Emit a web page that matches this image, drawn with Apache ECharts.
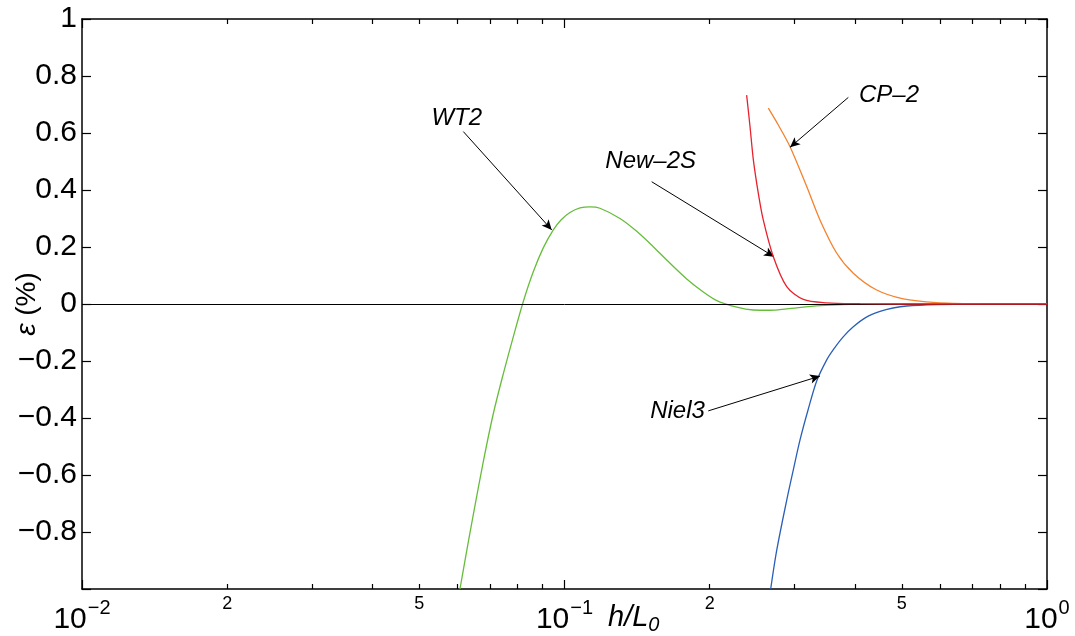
<!DOCTYPE html>
<html>
<head>
<meta charset="utf-8">
<script src="https://cdn.jsdelivr.net/npm/echarts@6/dist/echarts.min.js"></script>
<style>
html,body{margin:0;padding:0;background:#fff;}
#chart{width:1075px;height:636px;}
</style>
</head>
<body>
<div id="chart"></div>
<script>
// ---- data (h/L0 vs epsilon %) ----
const hL0_WT2 = [0.06072, 0.06248, 0.06470, 0.06786, 0.07117, 0.07464, 0.07829, 0.08210, 0.08612, 0.09031, 0.09479, 0.09834, 0.10266, 0.10768, 0.11295, 0.11845, 0.13032, 0.14114, 0.15276, 0.16545, 0.17918, 0.19399, 0.20683, 0.22752, 0.24619, 0.26666, 0.2888, 0.33844, 0.39058, 0.49585, 0.7, 1.0];
const eps_WT2 = [-1.0, -0.881, -0.740, -0.554, -0.386, -0.246, -0.116, 0.007, 0.112, 0.196, 0.260, 0.295, 0.321, 0.337, 0.341, 0.336, 0.300, 0.255, 0.201, 0.143, 0.088, 0.042, 0.012, -0.011, -0.021, -0.022, -0.017, -0.006, -0.001, 0, 0, 0];

const hL0_New2S = [0.2385, 0.2424, 0.2463, 0.2522, 0.2582, 0.2709, 0.2888, 0.3126, 0.3495, 0.41, 0.5, 0.7, 1.0];
const eps_New2S = [0.733, 0.622, 0.505, 0.388, 0.295, 0.166, 0.061, 0.016, 0.004, 0.001, 0, 0, 0];

const hL0_CP2 = [0.2645, 0.2774, 0.2934, 0.3177, 0.3384, 0.3667, 0.3968, 0.4436, 0.5038, 0.5906, 0.73, 1.0];
const eps_CP2 = [0.687, 0.628, 0.552, 0.412, 0.295, 0.178, 0.108, 0.049, 0.018, 0.005, 0.001, 0];

const hL0_Niel3 = [0.2675, 0.2754, 0.2888, 0.2980, 0.3077, 0.3197, 0.3332, 0.3495, 0.3607, 0.3777, 0.3968, 0.4216, 0.4508, 0.4796, 0.5120, 0.5906, 0.6925, 1.0];
const eps_Niel3 = [-1.0, -0.863, -0.688, -0.582, -0.477, -0.372, -0.270, -0.196, -0.160, -0.116, -0.080, -0.047, -0.026, -0.014, -0.007, -0.002, 0, 0];

// tick values (h/L0)
const xMajorTicks = [0.01, 0.1, 1];
const xMinorTicks = [0.02, 0.03, 0.04, 0.05, 0.06, 0.07, 0.08, 0.09, 0.2, 0.3, 0.4, 0.5, 0.6, 0.7, 0.8, 0.9];
const xMinorLabels = [0.02, 0.05, 0.2, 0.5];

// annotations: name, label centre, arrow start, arrow end (data coords)
const annNames = ['WT2', 'New\u20132S', 'CP\u20132', 'Niel3'];
const annLabelPos = [[0.0598, 0.653], [0.1509, 0.499], [0.4705, 0.733], [0.1715, -0.378]];
const annArrowFrom = [[0.0617, 0.605], [0.1516, 0.429], [0.3875, 0.725], [0.1986, -0.375]];
const annArrowTo = [[0.0941, 0.260], [0.2718, 0.166], [0.2934, 0.550], [0.3384, -0.253]];

const FONT = '"Liberation Sans", Arial, Helvetica, sans-serif';
const lg = v => Math.log10(v);
const toXY = (xs, ys) => xs.map((x, i) => [lg(x), ys[i]]);
const lgPt = p => [lg(p[0]), p[1]];
const minus = '\u2212';

const measureCtx = document.createElement('canvas').getContext('2d');
function textWidth(text, size, italic) {
  measureCtx.font = (italic ? 'italic ' : '') + size + 'px ' + FONT;
  return measureCtx.measureText(text).width;
}

const chart = echarts.init(document.getElementById('chart'), null, {renderer: 'canvas'});

// x axis: log10(h/L0) on a linear scale from -2 to 0
const baseX = {
  type: 'value', min: -2, max: 0, gridIndex: 0,
  splitLine: {show: false}, minorTick: {show: false}, minorSplitLine: {show: false}
};
const tickStyle = {color: '#000', width: 1.2};
const lineOn = {show: true, onZero: false, lineStyle: {color: '#000', width: 1.5}};
const lineOff = {show: false, onZero: false};

const option = {
  animation: false,
  backgroundColor: '#fff',
  grid: {left: 82, right: 28, top: 19, bottom: 47, containLabel: false, outerBoundsMode: 'none'},
  xAxis: [
    Object.assign({}, baseX, {
      position: 'bottom',
      axisLine: lineOn,
      axisTick: {show: true, inside: true, length: 9, customValues: xMajorTicks.map(lg), lineStyle: tickStyle},
      axisLabel: {show: false}
    }),
    Object.assign({}, baseX, {
      position: 'bottom',
      axisLine: lineOff,
      axisTick: {show: true, inside: true, length: 5, customValues: xMinorTicks.map(lg), lineStyle: tickStyle},
      axisLabel: {
        show: true, margin: 6, customValues: xMinorLabels.map(lg),
        formatter: v => String(Math.round(Math.pow(10, v - Math.floor(v + 1e-9)))),
        fontSize: 18, lineHeight: 18, fontFamily: FONT, color: '#000'
      }
    }),
    Object.assign({}, baseX, {
      position: 'top',
      axisLine: lineOn,
      axisTick: {show: true, inside: true, length: 9, customValues: xMajorTicks.map(lg), lineStyle: tickStyle},
      axisLabel: {show: false}
    }),
    Object.assign({}, baseX, {
      position: 'top',
      axisLine: lineOff,
      axisTick: {show: true, inside: true, length: 5, customValues: xMinorTicks.map(lg), lineStyle: tickStyle},
      axisLabel: {show: false}
    })
  ],
  yAxis: [
    {
      type: 'value', position: 'left', min: -1, max: 1, interval: 0.2,
      splitLine: {show: false},
      axisLine: lineOn,
      axisTick: {show: true, inside: true, length: 9, lineStyle: tickStyle},
      axisLabel: {
        margin: 5, fontSize: 30, fontFamily: FONT, color: '#000',
        formatter: v => {
          const r = Math.round(v * 10) / 10;
          if (r === -1) return '';
          return r < 0 ? minus + String(Math.abs(r)) : String(r);
        }
      },
      name: '{e|\u03b5} (%)',
      nameLocation: 'middle', nameRotate: 90, nameGap: 41, nameMoveOverlap: false,
      nameTextStyle: {
        fontSize: 28, fontFamily: FONT, color: '#000',
        rich: {e: {fontSize: 28, fontStyle: 'italic', fontFamily: FONT, color: '#000'}}
      }
    },
    {
      type: 'value', position: 'right', min: -1, max: 1, interval: 0.2,
      splitLine: {show: false},
      axisLine: lineOn,
      axisTick: {show: true, inside: true, length: 9, lineStyle: tickStyle},
      axisLabel: {show: false}
    }
  ],
  series: [
    {
      name: 'zero', type: 'line', data: [], xAxisIndex: 0, yAxisIndex: 0,
      markLine: {
        silent: true, symbol: ['none', 'none'], animation: false,
        lineStyle: {color: '#000', width: 1, type: 'solid'},
        label: {show: false},
        data: [{yAxis: 0}]
      }
    },
    {
      name: 'WT2', type: 'line', data: toXY(hL0_WT2, eps_WT2), showSymbol: false,
      smooth: 0.3, lineStyle: {color: '#66bd3a', width: 1.3}, itemStyle: {color: '#66bd3a'}, z: 3
    },
    {
      name: 'Niel3', type: 'line', data: toXY(hL0_Niel3, eps_Niel3), showSymbol: false,
      smooth: 0.3, lineStyle: {color: '#2a5fb8', width: 1.3}, itemStyle: {color: '#2a5fb8'}, z: 3
    },
    {
      name: 'CP-2', type: 'line', data: toXY(hL0_CP2, eps_CP2), showSymbol: false,
      smooth: 0.3, lineStyle: {color: '#f5822d', width: 1.3}, itemStyle: {color: '#f5822d'}, z: 4
    },
    {
      name: 'New-2S', type: 'line', data: toXY(hL0_New2S, eps_New2S), showSymbol: false,
      smooth: 0.3, lineStyle: {color: '#e8212c', width: 1.3}, itemStyle: {color: '#e8212c'}, z: 5
    },
    {
      name: 'annotations', type: 'line', data: [], z: 6,
      markLine: {
        silent: true, animation: false,
        symbol: ['none', 'arrow'], symbolSize: [7, 10],
        lineStyle: {color: '#000', width: 1, type: 'solid'},
        label: {show: false},
        data: annArrowFrom.map((f, i) => [{coord: lgPt(f)}, {coord: lgPt(annArrowTo[i])}])
      }
    }
  ]
};

chart.setOption(option);

// text elements placed through the chart's own coordinate conversion
const graphics = [];

// major x tick labels: 10 with superscript exponent, centred on the tick
const BASE_SIZE = 30, EXP_SIZE = 20;
xMajorTicks.forEach((t, i) => {
  const px = chart.convertToPixel({xAxisIndex: 0}, lg(t));
  const e = Math.round(lg(t));
  const expText = (e < 0 ? minus : '') + Math.abs(e);
  const wb = textWidth('10', BASE_SIZE, false);
  const we = textWidth(expText, EXP_SIZE, false);
  const left = px - (wb + 1 + we) / 2;
  graphics.push({
    type: 'text', id: 'xmaj' + i, x: left, y: 620, z: 100,
    style: {text: '10', fontSize: BASE_SIZE, fontFamily: FONT, fill: '#000', align: 'left', verticalAlign: 'middle'}
  });
  graphics.push({
    type: 'text', id: 'xexp' + i, x: left + wb + 1, y: 608, z: 100,
    style: {text: expText, fontSize: EXP_SIZE, fontFamily: FONT, fill: '#000', align: 'left', verticalAlign: 'middle'}
  });
});

// x axis name h/L0
const hlW = textWidth('h/L', 29, true);
graphics.push({
  type: 'text', id: 'xname', x: 608, y: 618, z: 100,
  style: {text: 'h/L', fontSize: 29, fontStyle: 'italic', fontFamily: FONT, fill: '#000', align: 'left', verticalAlign: 'middle'}
});
graphics.push({
  type: 'text', id: 'xnamesub', x: 608 + hlW, y: 625, z: 100,
  style: {text: '0', fontSize: 20, fontStyle: 'italic', fontFamily: FONT, fill: '#000', align: 'left', verticalAlign: 'middle'}
});

annLabelPos.forEach((p, i) => {
  const px = chart.convertToPixel({xAxisIndex: 0, yAxisIndex: 0}, lgPt(p));
  graphics.push({
    type: 'text', id: 'ann' + i, x: px[0], y: px[1], z: 100,
    style: {
      text: annNames[i], fontSize: 24, fontStyle: 'italic', fontFamily: FONT,
      fill: '#000', align: 'center', verticalAlign: 'middle'
    }
  });
});
chart.setOption({graphic: graphics});
</script>
</body>
</html>
